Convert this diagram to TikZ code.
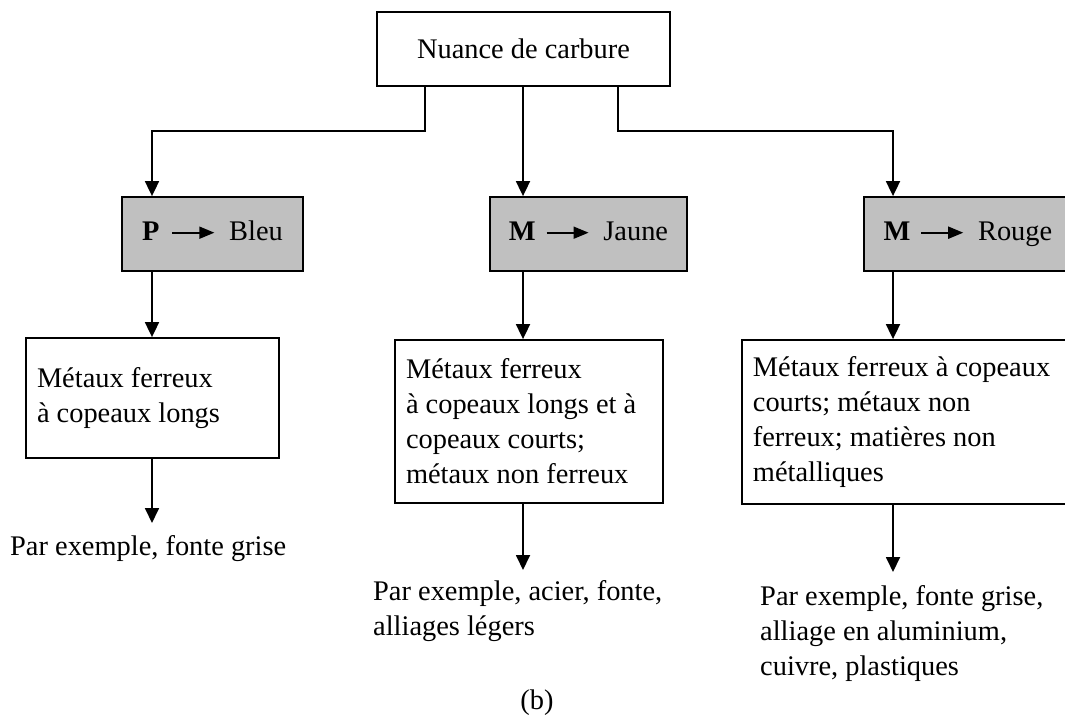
\documentclass[tikz,border=0pt]{standalone}
\usepackage{fontspec}
\setmainfont{Liberation Serif}
\usetikzlibrary{arrows.meta}
\definecolor{boxgray}{RGB}{192,192,192}
% small filled arrow used inside the grade boxes
\newcommand\gradearrow{\tikz[baseline=-0.6ex]\draw[line width=1.7pt,-{Triangle[length=15pt,width=12pt]}] (0,0)--(42pt,0);}
\begin{document}
\begin{tikzpicture}[x=1pt,y=-1pt,
  txt/.style={font=\fontsize{28.4}{35}\selectfont},
  plain/.style={draw, line width=1.8pt, fill=white, inner sep=0pt, txt},
  grade/.style={draw, line width=1.8pt, fill=boxgray, minimum height=74pt, inner sep=0pt,
                text height=19pt, text depth=6pt, txt},
  textbox/.style={draw, line width=1.8pt, align=flush left, inner ysep=0pt, txt},
  example/.style={anchor=north west, align=flush left, inner sep=0pt, txt},
  arr/.style={line width=1.8pt, -{Triangle[length=15pt,width=14pt]}},
]
\useasboundingbox[fill=white] (0,0) rectangle (1065,718);

% column positions
\coordinate (c1) at (152,0);
\coordinate (c2) at (523,0);
\coordinate (c3) at (893,0);
\coordinate (d1) at (425,0);
\coordinate (d3) at (618,0);

% top box
\node[plain, minimum width=293pt, minimum height=74pt] (top) at (523.5,49) {Nuance de carbure};

% grade boxes (the right-hand column runs past the page edge)
\node[grade, minimum width=181pt] (gP) at (212.5,234) {\textbf{P}\hspace{12pt}\gradearrow\hspace{14pt}Bleu};
\node[grade, minimum width=197pt] (gJ) at (588.5,234) {\textbf{M}\hspace{10pt}\gradearrow\hspace{14pt}Jaune};
\node[grade, minimum width=240pt, anchor=west] (gR) at (863,234) {\textbf{M}\hspace{10pt}\gradearrow\hspace{14pt}Rouge\rule{32pt}{0pt}};

% material boxes
\node[textbox, inner xsep=11pt, text width=231pt, minimum height=120pt] (tL) at (152.5,398)
  {Métaux ferreux\\à copeaux longs};
\node[textbox, inner xsep=11pt, text width=246pt, minimum height=163pt] (tJ) at (529,421.5)
  {Métaux ferreux\\à copeaux longs et à\\copeaux courts;\\métaux non ferreux};
\node[textbox, inner xsep=11pt, text width=338pt, minimum height=164pt, anchor=west] (tR) at (741,422)
  {Métaux ferreux à copeaux\\courts; métaux non\\ferreux; matières non\\métalliques};

% examples
\node[example] (eL) at (10,535.6) {Par exemple, fonte grise};
\node[example] (eJ) at (373,580.6) {Par exemple, acier, fonte,\\alliages légers};
\node[example] (eR) at (760,585.6) {Par exemple, fonte grise,\\alliage en aluminium,\\cuivre, plastiques};

\coordinate (e1) at (152,523);
\coordinate (e2) at (523,570);
\coordinate (e3) at (893,572);

\node[txt, inner sep=0pt] (cap) at (537,703) {(b)};

% connectors
\draw[arr] (top.south -| d1) -- ++(0,44) -| (gP.north -| c1);
\draw[arr] (top.south -| c2) -- (gJ.north -| c2);
\draw[arr] (top.south -| d3) -- ++(0,44) -| (gR.north -| c3);

\draw[arr] (gP.south -| c1) -- (tL.north -| c1);
\draw[arr] (gJ.south -| c2) -- (tJ.north -| c2);
\draw[arr] (gR.south -| c3) -- (tR.north -| c3);

\draw[arr] (tL.south -| c1) -- (e1);
\draw[arr] (tJ.south -| c2) -- (e2);
\draw[arr] (tR.south -| c3) -- (e3);
\end{tikzpicture}
\end{document}
